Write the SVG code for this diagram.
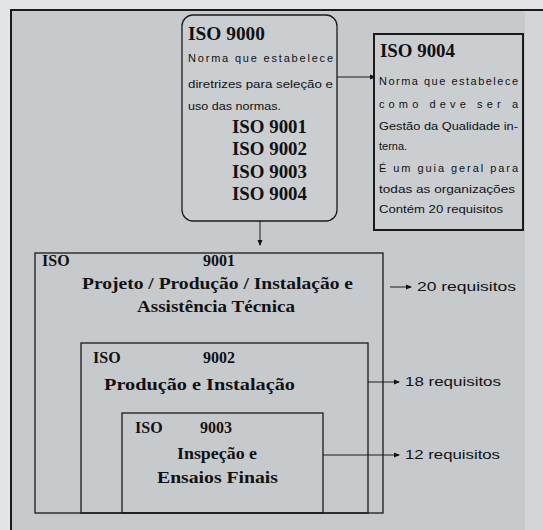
<svg xmlns="http://www.w3.org/2000/svg" width="543" height="530" viewBox="0 0 543 530">
<defs>
<marker id="ah" markerWidth="6" markerHeight="6" refX="5" refY="3" orient="auto" markerUnits="userSpaceOnUse">
<path d="M0,0.5 L6,3 L0,5.5 Z" fill="#111"/>
</marker>
<style>
.ser{font-family:"Liberation Serif","Times New Roman",serif;font-weight:bold;fill:#111}
.sans{font-family:"Liberation Sans",Arial,sans-serif;fill:#111}
.box{fill:none;stroke:#1a1a1a;stroke-width:1.3}
.con{stroke:#1a1a1a;stroke-width:1;fill:none}
.req{font-family:"Liberation Sans",Arial,sans-serif;fill:#111;font-size:13px}
</style>
</defs>
<rect x="0" y="0" width="543" height="530" fill="#e4e5e6"/>
<rect x="11" y="10" width="532" height="520" fill="#c7cacd"/>
<rect x="525" y="10" width="18" height="520" fill="#d3d5d7"/>
<path d="M11,530 V10 H543" fill="none" stroke="#1a1a1a" stroke-width="2"/>

<g id="connectors">
<line class="con" x1="337" y1="77" x2="375" y2="77" marker-end="url(#ah)"/>
<line class="con" x1="260" y1="221" x2="260" y2="245" marker-end="url(#ah)"/>
<line class="con" x1="390" y1="287" x2="411" y2="287" marker-end="url(#ah)"/>
<line class="con" x1="368" y1="382" x2="399" y2="382" marker-end="url(#ah)"/>
<line class="con" x1="323" y1="455" x2="399" y2="455" marker-end="url(#ah)"/>
</g>

<g id="iso9000">
<rect x="182" y="15" width="155" height="206" rx="11" fill="#cbced1" stroke="#1a1a1a" stroke-width="1.3"/>
<text class="ser" x="188" y="40" font-size="18" textLength="77" lengthAdjust="spacingAndGlyphs">ISO 9000</text>
<text class="sans" x="188" y="62" font-size="11" textLength="145" lengthAdjust="spacing">Norma que estabelece</text>
<text class="sans" x="188" y="88" font-size="11" textLength="145" lengthAdjust="spacingAndGlyphs">diretrizes para seleção e</text>
<text class="sans" x="188" y="110" font-size="11" textLength="93" lengthAdjust="spacingAndGlyphs">uso das normas.</text>
<text class="ser" x="232" y="133" font-size="18" textLength="75" lengthAdjust="spacingAndGlyphs">ISO 9001</text>
<text class="ser" x="232" y="155" font-size="18" textLength="75" lengthAdjust="spacingAndGlyphs">ISO 9002</text>
<text class="ser" x="232" y="178" font-size="18" textLength="75" lengthAdjust="spacingAndGlyphs">ISO 9003</text>
<text class="ser" x="232" y="200" font-size="18" textLength="75" lengthAdjust="spacingAndGlyphs">ISO 9004</text>
</g>

<g id="iso9004">
<rect x="374" y="34" width="149" height="196" fill="#cbced1" stroke="#1a1a1a" stroke-width="2"/>
<text class="ser" x="380" y="57" font-size="18" textLength="75" lengthAdjust="spacingAndGlyphs">ISO 9004</text>
<text class="sans" x="379" y="85" font-size="11" textLength="139" lengthAdjust="spacing">Norma que estabelece</text>
<text class="sans" x="379" y="108" font-size="11" textLength="139" lengthAdjust="spacing">como deve ser a</text>
<text class="sans" x="379" y="130" font-size="11" textLength="139" lengthAdjust="spacingAndGlyphs">Gestão da Qualidade in-</text>
<text class="sans" x="379" y="150" font-size="11">terna.</text>
<text class="sans" x="379" y="172" font-size="11" textLength="139" lengthAdjust="spacing">É um guia geral para</text>
<text class="sans" x="379" y="193" font-size="11" textLength="136" lengthAdjust="spacingAndGlyphs">todas as organizações</text>
<text class="sans" x="379" y="213" font-size="11" textLength="124" lengthAdjust="spacingAndGlyphs">Contém 20 requisitos</text>
</g>

<g id="iso9001">
<rect class="box" x="35" y="253" width="348" height="260"/>
<text class="ser" x="42" y="266" font-size="16">ISO</text>
<text class="ser" x="203" y="266" font-size="16">9001</text>
<text class="ser" x="82" y="289" font-size="16" textLength="271" lengthAdjust="spacingAndGlyphs">Projeto / Produção / Instalação  e</text>
<text class="ser" x="137" y="312" font-size="16" textLength="158" lengthAdjust="spacingAndGlyphs">Assistência Técnica</text>
<text class="req" x="417" y="291" textLength="99" lengthAdjust="spacingAndGlyphs">20 requisitos</text>
</g>

<g id="iso9002">
<rect class="box" x="81" y="343" width="287" height="170"/>
<text class="ser" x="93" y="363" font-size="16">ISO</text>
<text class="ser" x="203" y="363" font-size="16">9002</text>
<text class="ser" x="104" y="390" font-size="16" textLength="191" lengthAdjust="spacingAndGlyphs">Produção  e  Instalação</text>
<text class="req" x="405" y="386" textLength="96" lengthAdjust="spacingAndGlyphs">18 requisitos</text>
</g>

<g id="iso9003">
<rect class="box" x="122" y="413" width="201" height="100"/>
<text class="ser" x="135" y="433" font-size="16">ISO</text>
<text class="ser" x="200" y="433" font-size="16">9003</text>
<text class="ser" x="177" y="459" font-size="16" textLength="80" lengthAdjust="spacingAndGlyphs">Inspeção e</text>
<text class="ser" x="157" y="483" font-size="16" textLength="121" lengthAdjust="spacingAndGlyphs">Ensaios Finais</text>
<text class="req" x="405" y="459" textLength="95" lengthAdjust="spacingAndGlyphs">12 requisitos</text>
</g>
</svg>
